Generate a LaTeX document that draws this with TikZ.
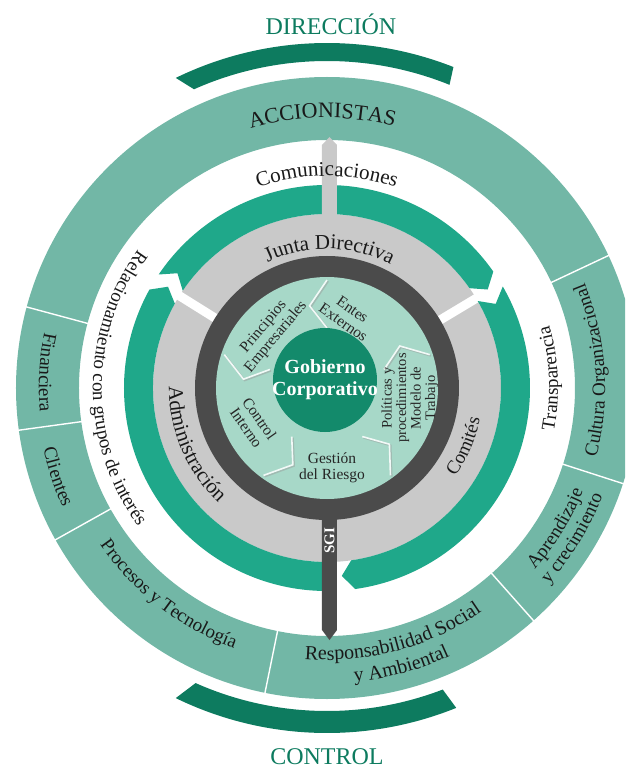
\documentclass[tikz,border=0pt]{standalone}
\usepackage{fontspec}
\setmainfont{Liberation Serif}
\usetikzlibrary{decorations.text}

\definecolor{accteal}{HTML}{72B7A6}
\definecolor{ringgreen}{HTML}{1FA88A}
\definecolor{deepgreen}{HTML}{0D7B5F}
\definecolor{coregreen}{HTML}{138A6B}
\definecolor{paleteal}{HTML}{A7D8C8}
\definecolor{ringgray}{HTML}{C9C9C9}
\definecolor{sgigray}{HTML}{4B4B4B}

% text running counter-clockwise (letters face the centre)
\newcommand\ringtext[4]{%
  \path[decorate,decoration={text along path,text align=center,text color=black!90,
      text={|\fontsize{#3}{#3}\selectfont|#4}}]
    ({#1-70}:#2) arc[start angle={#1-70},end angle={#1+70},radius=#2];}
% text running clockwise over the top
\newcommand\toptext[4]{%
  \path[decorate,decoration={text along path,text align=center,text color=black!90,
      text={|\fontsize{#3}{#3}\selectfont|#4}}]
    ({#1+70}:#2) arc[start angle={#1+70},end angle={#1-70},radius=#2];}
% green band piece, notch at #1, point at #2
\newcommand\flowarc[2]{%
  \fill[flow] (#1:203) arc[start angle=#1,end angle=#2,radius=203]
    -- ({#2-3.5}:188.5) -- (#2:174)
    arc[start angle=#2,end angle=#1,radius=174]
    -- ({#1-3.5}:188.5) -- cycle;}

\begin{document}
\begin{tikzpicture}[x=1pt,y=1pt,
    seg/.style={draw=white,line width=1.4pt},
    flow/.style={fill=ringgreen},
    chev/.style={draw=white!85!paleteal,line width=1.6pt},
    chevshade/.style={draw=black!40,line width=1.8pt,opacity=.45},
    title/.style={text=deepgreen,font=\fontsize{24}{24}\selectfont,anchor=base},
    inner/.style={align=center,text=black!85,inner sep=1pt,font=\fontsize{15.5}{16}\selectfont},
  ]
  \clip (-327,-381) rectangle (298,388);

  % outer ring
  \fill[accteal,even odd rule] (0,0) circle[radius=311] (0,0) circle[radius=248];
  \foreach \a in {25.2,164.9,187.8,209.2,258.5,311.6,342.1}
    \draw[seg] (\a:247) -- (\a:313);

  \fill[deepgreen] (68.5:345) arc[start angle=68.5,end angle=116,radius=345]
    -- (114:327) arc[start angle=114,end angle=68,radius=327] -- cycle;
  \fill[deepgreen] (244:345) arc[start angle=244,end angle=292,radius=345]
    -- (291:323) arc[start angle=291,end angle=246,radius=323] -- cycle;
  \node[title] (dir) at (4,353) {DIRECCIÓN};
  \node[title] (ctl) at (0,-376) {CONTROL};

  % gray ring and green bands
  \fill[ringgray] (0,0) circle[radius=174];
  \foreach \a in {148,31}
    \draw[white,line width=9pt] (\a:128) -- (\a:206);
  \flowarc{272}{151}
  \flowarc{146}{35}
  \flowarc{30}{-82}
  \fill[ringgray] (-5,170) -- (-5,243) -- (2.5,251) -- (10,243) -- (10,170) -- cycle;

  % SGI ring and arrow
  \fill[sgigray] (0,0) circle[radius=132];
  \fill[sgigray] (-5,-100) -- (-5,-242) -- (2.5,-252) -- (10,-242) -- (10,-100) -- cycle;
  \fill[paleteal] (0,0) circle[radius=111];
  \node[rotate=90,text=white,font=\bfseries\fontsize{15}{15}\selectfont] (sgi) at (2.5,-153) {SGI};

  \foreach \a in {18,90,162,234,306} {
    \draw[chevshade,xshift=1.2pt,yshift=-1.2pt] (\a:60) -- ({\a+12}:84) -- (\a:108);
    \draw[chev] (\a:60) -- ({\a+12}:84) -- (\a:108);
  }

  \fill[coregreen] (-2,8) circle[radius=52];
  \node[align=center,text=white,font=\bfseries\fontsize{20}{22}\selectfont] (core) at (-2,8) {Gobierno\\Corporativo};

  \node[inner,rotate=50] (princ) at (-57,56) {Principios\\Empresariales};
  \node[inner,rotate=-35] (entes) at (21,72) {Entes\\Externos};
  \node[inner,rotate=90,font=\fontsize{14.5}{14.5}\selectfont] (polit) at (83,-10) {Políticas y\\procedimientos\\Modelo de\\Trabajo};
  \node[inner] (riesgo) at (5,-80) {Gestión\\del Riesgo};
  \node[inner,rotate=-55] (ctrl) at (-74,-35) {Control\\Interno};

  \toptext{91}{270}{22}{ACCIONISTAS}
  \toptext{90}{212}{21}{Comunicaciones}
  \toptext{89}{139}{21}{Junta Directiva}
  \ringtext{180}{234}{19}{Relacionamiento con grupos de interés}
  \ringtext{2.5}{231}{19}{Transparencia}
  \ringtext{203}{158}{21}{Administración}
  \ringtext{-23}{156}{19}{Comités}
  \ringtext{176.8}{288}{19}{Financiera}
  \ringtext{198.2}{290}{19}{Clientes}
  \ringtext{3.9}{278}{19}{Cultura Organizacional}
  \ringtext{-31.5}{276}{19}{Aprendizaje}
  \ringtext{-31.5}{296}{19}{y crecimiento}
  \ringtext{232.5}{276}{19}{Procesos y Tecnología}
  \ringtext{-75}{272}{20}{Responsabilidad Social}
  \ringtext{-75}{295}{20}{y Ambiental}
\end{tikzpicture}
\end{document}
